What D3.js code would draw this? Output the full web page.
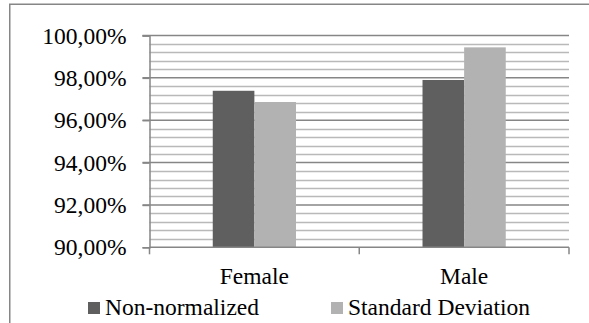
<!DOCTYPE html>
<html><head><meta charset="utf-8">
<script src="https://cdn.jsdelivr.net/npm/d3@7"></script>
<style>body{margin:0;background:#fff}svg{display:block}
svg text{font-family:"Liberation Serif","Times New Roman",serif !important;font-size:23.5px;fill:#000}</style>
</head><body>
<svg id="c" width="589" height="323"></svg>
<script>
const categories = ["Female", "Male"];
const seriesNames = ["Non-normalized", "Standard Deviation"];
const nonNormalized = [97.39, 97.90];
const standardDeviation = [96.86, 99.44];
const yTicks = [90, 92, 94, 96, 98, 100];
const colors = ["#5f5f5f", "#b2b2b2"];

(function () {
const svg = d3.select("#c");
const pLeft = 149.5, pRight = 569, pTop = 35.5, pBottom = 247.3;

svg.append("rect").attr("x", 9.75).attr("y", 4.25).attr("width", 620).attr("height", 400)
  .attr("fill", "#fff").attr("stroke", "#868686").attr("stroke-width", 1.5);

const y = d3.scaleLinear().domain([90, 100]).range([pBottom, pTop]);
const x = d3.scaleBand().domain(categories).range([pLeft, pRight]);
const sub = d3.scaleBand().domain(seriesNames).range([0, x.bandwidth()]).paddingOuter(1.52);

// minor gridlines
const minor = d3.range(0, 51).map(i => 90 + i * 0.2).filter((v, i) => i % 2 === 0 && i % 10 !== 0);
svg.append("g").selectAll("line").data(minor).join("line")
  .attr("x1", pLeft).attr("x2", pRight)
  .attr("y1", d => Math.round(y(d)) + 0.5).attr("y2", d => Math.round(y(d)) + 0.5)
  .attr("stroke", "#b9b9b9").attr("stroke-width", 1.6);

// major gridlines
svg.append("g").selectAll("line").data(yTicks.filter(d => d > 90)).join("line")
  .attr("x1", pLeft - 7).attr("x2", pRight)
  .attr("y1", d => y(d)).attr("y2", d => y(d))
  .attr("stroke", "#868686").attr("stroke-width", 1.5);

// bars
const data = categories.map((c, i) => ({ c, vals: [nonNormalized[i], standardDeviation[i]] }));
const g = svg.append("g");
data.forEach(d => {
  d.vals.forEach((v, j) => {
    g.append("rect")
      .attr("x", x(d.c) + sub(seriesNames[j]))
      .attr("y", y(v))
      .attr("width", sub.bandwidth())
      .attr("height", y(90) - y(v))
      .attr("fill", colors[j]);
  });
});

// axes
const yAxis = d3.axisLeft(y).tickValues(yTicks).tickSize(7).tickPadding(16)
  .tickFormat(d => d3.format(".2f")(d).replace(".", ",") + "%");
const ya = svg.append("g").attr("transform", `translate(${pLeft},0)`).call(yAxis);
ya.attr("font-family", null).attr("font-size", null);
ya.select(".domain").attr("stroke", "#868686").attr("stroke-width", 1.5);
ya.selectAll(".tick line").attr("stroke", "#868686").attr("stroke-width", 1.5);

const xAxis = d3.axisBottom(x).tickSize(0).tickPadding(24);
const xa = svg.append("g").attr("transform", `translate(0,${pBottom})`).call(xAxis);
xa.attr("font-family", null).attr("font-size", null);
xa.select(".domain").remove();
xa.selectAll("text").attr("dy", "0.71em").attr("y", 20);
svg.append("line").attr("x1", pLeft).attr("x2", pRight).attr("y1", pBottom).attr("y2", pBottom)
  .attr("stroke", "#868686").attr("stroke-width", 1.5);
const cuts = [pLeft, x("Male"), pRight];
svg.append("g").selectAll("line").data(cuts).join("line")
  .attr("x1", d => d).attr("x2", d => d).attr("y1", pBottom).attr("y2", pBottom + 7)
  .attr("stroke", "#868686").attr("stroke-width", 1.5);

// legend
const legX = [88, 331];
const leg = svg.append("g");
seriesNames.forEach((s, i) => {
  leg.append("rect").attr("x", legX[i]).attr("y", 302).attr("width", 12).attr("height", 12).attr("fill", colors[i]);
  leg.append("text").attr("x", legX[i] + 17).attr("y", 315).text(s);
});
})();
</script>
</body></html>
